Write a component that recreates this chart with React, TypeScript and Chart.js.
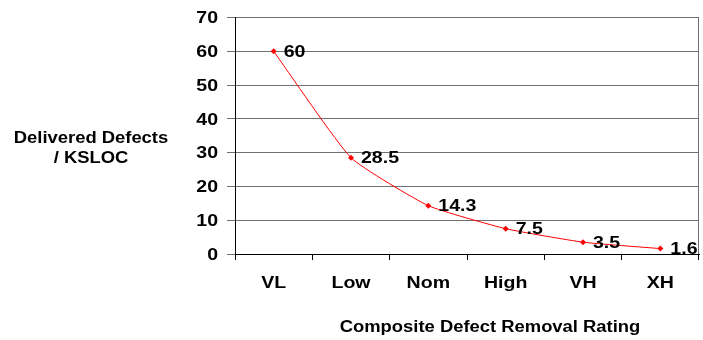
import React, { useEffect, useRef } from "react";
import { Chart, registerables } from "chart.js";

Chart.register(...registerables);

const categories = ["VL", "Low", "Nom", "High", "VH", "XH"];
const defects = [60, 28.5, 14.3, 7.5, 3.5, 1.6];
const yTicks = [0, 10, 20, 30, 40, 50, 60, 70];
const yTitleLines = ["Delivered Defects", "/ KSLOC"];
const xTitle = "Composite Defect Removal Rating";

const FONT = "'Liberation Sans', Arial, sans-serif";
const STRETCH = 1.15; // the typeface runs a little wide

function wideText(
  ctx: CanvasRenderingContext2D,
  text: string,
  x: number,
  y: number,
  size: number,
  align: CanvasTextAlign
) {
  ctx.save();
  ctx.font = `bold ${size}px ${FONT}`;
  ctx.fillStyle = "#000";
  ctx.textAlign = align;
  ctx.textBaseline = "middle";
  ctx.translate(x, y);
  ctx.scale(STRETCH, 1);
  ctx.fillText(text, 0, 0);
  ctx.restore();
}

export default function App() {
  const ref = useRef<HTMLCanvasElement | null>(null);

  useEffect(() => {
    const canvas = ref.current;
    if (!canvas) return;

    const annotate = {
      id: "annotate",
      afterDatasetsDraw(chart: any) {
        const ctx = chart.ctx;
        const meta = chart.getDatasetMeta(0);
        meta.data.forEach((pt: any, i: number) => {
          wideText(ctx, String(defects[i]), pt.x + 10, pt.y + 1, 17, "left");
        });
      },
      afterDraw(chart: any) {
        const ctx = chart.ctx;
        const { chartArea } = chart;
        const xs = chart.scales.x;
        const ys = chart.scales.y;

        // right border of the plot
        ctx.save();
        ctx.strokeStyle = "#707070";
        ctx.lineWidth = 1;
        ctx.beginPath();
        ctx.moveTo(Math.round(chartArea.right) - 0.5, chartArea.top);
        ctx.lineTo(Math.round(chartArea.right) - 0.5, chartArea.bottom);
        ctx.stroke();
        ctx.restore();

        // tick labels, placed by the scales
        yTicks.forEach((v) => {
          wideText(ctx, String(v), 218, ys.getPixelForValue(v) + 1, 17, "right");
        });
        categories.forEach((c, i) => {
          wideText(ctx, c, xs.getPixelForValue(i), 283, 17, "center");
        });

        // axis titles
        wideText(ctx, yTitleLines[0], 91, 138.5, 16, "center");
        wideText(ctx, yTitleLines[1], 91, 159, 16, "center");
        wideText(ctx, xTitle, 490, 328, 16, "center");
      },
    };

    const chart = new Chart(canvas, {
      type: "line",
      data: {
        labels: categories,
        datasets: [
          {
            data: defects,
            borderColor: "#FF0000",
            backgroundColor: "#FF0000",
            borderWidth: 1,
            tension: 0.15,
            pointStyle: "rectRot",
            pointRadius: 3,
            pointBorderWidth: 0,
          },
        ],
      },
      options: {
        responsive: false,
        animation: false,
        layout: { padding: { top: 17.5, right: 1, left: 0, bottom: 0 } },
        plugins: {
          legend: { display: false },
          tooltip: { enabled: false },
        },
        scales: {
          x: {
            offset: true,
            grid: {
              offset: true,
              drawOnChartArea: false,
              drawTicks: true,
              tickLength: 6,
              color: "#000",
            },
            border: { color: "#000", width: 1 },
            ticks: { display: false },
            afterFit(scale: any) {
              scale.height = 86;
            },
          },
          y: {
            min: 0,
            max: 70,
            afterBuildTicks(scale: any) {
              scale.ticks = yTicks.map((v) => ({ value: v }));
            },
            grid: {
              color: "#707070",
              drawTicks: true,
              tickLength: 8,
            },
            border: { color: "#000", width: 1 },
            ticks: { display: false },
            afterFit(scale: any) {
              scale.width = 235;
            },
          },
        },
      },
      plugins: [annotate],
    } as any);

    return () => chart.destroy();
  }, []);

  return (
    <div style={{ position: "fixed", left: 0, top: 0, width: 703, height: 340, background: "#fff" }}>
      <canvas ref={ref} width={703} height={340} style={{ display: "block" }} />
    </div>
  );
}
